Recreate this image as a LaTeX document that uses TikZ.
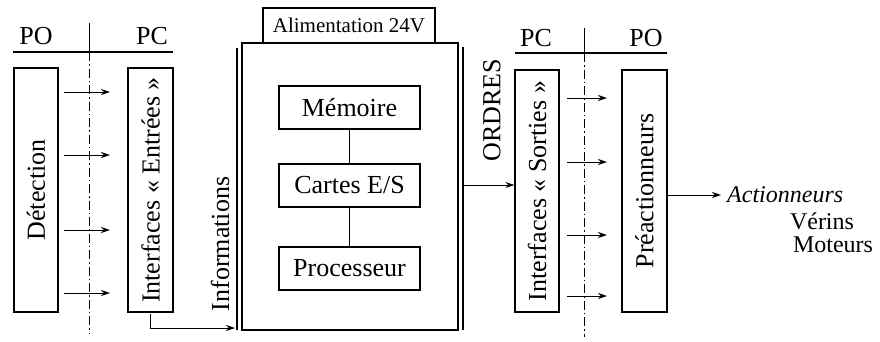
\documentclass[tikz,border=0pt]{standalone}
\usepackage{fontspec}
\setmainfont{Liberation Serif}
\usetikzlibrary{arrows.meta}
\begin{document}
\begin{tikzpicture}[x=1pt,y=-1pt,
  txt/.style={font=\fontsize{26}{30}\selectfont, inner sep=0pt},
  vbox/.style={draw, line width=1.3pt, rotate=90, font=\fontsize{26}{30}\selectfont, inner sep=0pt},
  hbox/.style={draw, line width=1.3pt, font=\fontsize{26}{30}\selectfont, inner sep=0pt},
  arr/.style={line width=1pt, -{Stealth[length=9pt,width=6pt]}},
  plain/.style={line width=1pt},
  axis/.style={line width=1pt, dash pattern=on 9pt off 3pt on 1.5pt off 3pt},
  sep/.style={line width=1.3pt}]
\useasboundingbox (0,0) rectangle (880,341);
% left part
\node[vbox, minimum width=244pt, minimum height=44pt] (det) at (36,190) {D\'etection};
\node[vbox, minimum width=244pt, minimum height=45pt] (ine) at (150.5,190) {Interfaces « Entr\'ees »};
\node[txt] (po1) at (36,36) {PO};
\node[txt] (pc1) at (152,36) {PC};
\coordinate (h1a) at (13,52); \coordinate (h1b) at (173,52);
\draw[sep] (h1a) -- (h1b);
\coordinate (v1t) at (89,23); \coordinate (v1m) at (89,52); \coordinate (v1b) at (89,333);
\draw[plain] (v1t) -- (v1m);
\draw[axis] (v1m) -- (v1b);
\foreach \y [count=\i] in {92,155,230,293} {
  \coordinate (la\i) at (64,\y); \coordinate (lb\i) at (110,\y);
  \draw[arr] (la\i) -- (lb\i);
}
% central unit
\node[hbox, minimum width=216pt, minimum height=287pt] (main) at (350,186.5) {};
\node[hbox, minimum width=172pt, minimum height=35pt, font=\fontsize{21}{24}\selectfont] (alim) at (349,25.5) {Alimentation 24V};
\coordinate (dl1) at (237,48); \coordinate (dl2) at (237,330);
\coordinate (dr1) at (463,47); \coordinate (dr2) at (463,330);
\draw[sep] (dl1) -- (dl2);
\draw[sep] (dr1) -- (dr2);
\node[hbox, minimum width=141pt, minimum height=43pt] (mem) at (349.5,107.5) {M\'emoire};
\node[hbox, minimum width=141pt, minimum height=43pt] (car) at (349.5,185.5) {Cartes E/S};
\node[hbox, minimum width=141pt, minimum height=43pt] (pro) at (349.5,268.5) {Processeur};
\draw[plain] (mem) -- (car);
\draw[plain] (car) -- (pro);
% informations
\coordinate (infoend) at (235,328);
\draw[arr] ([yshift=-1.5pt]ine.west) |- (infoend);
\node[txt, rotate=90] (info) at (220,244) {Informations};
% right part
\node[vbox, minimum width=242pt, minimum height=44pt] (ins) at (537,191) {Interfaces « Sorties »};
\node[vbox, minimum width=242pt, minimum height=45pt] (pre) at (644.5,191) {Pr\'eactionneurs};
\coordinate (ordstart) at (463,185);
\draw[arr] (ordstart) -- (ordstart -| ins.north);
\node[txt, rotate=90] (ordres) at (492,110) {ORDRES};
\node[txt] (pc2) at (536,38) {PC};
\node[txt] (po2) at (646,38) {PO};
\coordinate (h2a) at (515,53); \coordinate (h2b) at (667,53);
\draw[sep] (h2a) -- (h2b);
\coordinate (v2t) at (584,28); \coordinate (v2m) at (584,53); \coordinate (v2b) at (584,337);
\draw[plain] (v2t) -- (v2m);
\draw[axis] (v2m) -- (v2b);
\foreach \y [count=\i] in {98,162,235,296} {
  \coordinate (ra\i) at (567,\y); \coordinate (rb\i) at (607,\y);
  \draw[arr] (ra\i) -- (rb\i);
}
\coordinate (actend) at (721,195);
\draw[arr] (pre.south |- actend) -- (actend);
\node[txt, anchor=west, font=\fontsize{24}{28}\selectfont\itshape] (act) at (727,195) {Actionneurs};
\node[txt, font=\fontsize{24}{28}\selectfont] (ver) at (822,221) {V\'erins};
\node[txt, font=\fontsize{24}{28}\selectfont] (mot) at (833,245) {Moteurs};
\end{tikzpicture}
\end{document}
